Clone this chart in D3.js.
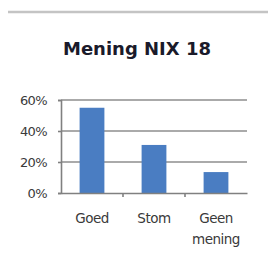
<!DOCTYPE html>
<html>
<head>
<meta charset="utf-8">
<script src="https://cdn.jsdelivr.net/npm/d3@7"></script>
<style>
  body { margin: 0; background: #fff; }
  svg { display: block; }
</style>
</head>
<body>
<svg id="chart" width="268" height="262"></svg>
<script>
const categories = ['Goed', 'Stom', 'Geen mening'];
const values = [55, 31, 13.5];
const yTicks = [0, 20, 40, 60];

const svg = d3.select('#chart');
const plotLeft = 61, plotRight = 247, plotTop = 100, plotBottom = 193;

// top separator line
svg.append('line')
    .attr('x1', 8).attr('x2', 268)
    .attr('y1', 12).attr('y2', 12)
    .attr('stroke', '#c4c4c4').attr('stroke-width', 2.5);

svg.append('text')
    .attr('x', 137).attr('y', 55)
    .attr('text-anchor', 'middle')
    .attr('font-family', 'DejaVu Sans')
    .attr('font-weight', 'bold')
    .attr('font-size', 18)
    .attr('fill', '#1a1a2a')
    .text('Mening NIX 18');

const x = d3.scaleBand().domain(categories).range([plotLeft, plotRight]).paddingInner(0.6).paddingOuter(0.3);
const y = d3.scaleLinear().domain([0, 60]).range([plotBottom, plotTop]);

// gridlines
svg.append('g').selectAll('line')
    .data(yTicks.filter(d => d > 0))
    .enter().append('line')
    .attr('x1', plotLeft).attr('x2', plotRight)
    .attr('y1', d => y(d)).attr('y2', d => y(d))
    .attr('stroke', '#8e8e8e').attr('stroke-width', 1.6);

// bars
svg.append('g').selectAll('rect')
    .data(values)
    .enter().append('rect')
    .attr('x', (d, i) => x(categories[i]))
    .attr('width', x.bandwidth())
    .attr('y', d => y(d))
    .attr('height', d => y(0) - y(d))
    .attr('fill', '#4a7dc2');

// y axis
const yAxis = svg.append('g')
    .attr('transform', `translate(${plotLeft},0)`)
    .call(d3.axisLeft(y).tickValues(yTicks).tickFormat(d => d + '%').tickSize(3).tickPadding(11));
yAxis.select('.domain').attr('stroke', '#808080').attr('stroke-width', 1.6);
yAxis.selectAll('.tick line').attr('stroke', '#808080').attr('stroke-width', 1.6);
yAxis.selectAll('text')
    .attr('font-family', 'DejaVu Sans')
    .attr('font-size', 13)
    .attr('letter-spacing', -0.6)
    .attr('fill', '#3a3a3a');

// x axis
const xAxis = svg.append('g')
    .attr('transform', `translate(0,${plotBottom})`)
    .call(d3.axisBottom(x).tickSize(0).tickFormat(''));
xAxis.select('.domain').attr('stroke', '#808080').attr('stroke-width', 1.6);
// tick marks between categories
const step = x.step();
xAxis.append('g').selectAll('line')
    .data(categories.slice(1))
    .enter().append('line')
    .attr('x1', d => x(d) - step * x.paddingInner() / 2)
    .attr('x2', d => x(d) - step * x.paddingInner() / 2)
    .attr('y1', 0).attr('y2', 4)
    .attr('stroke', '#808080').attr('stroke-width', 1.6);

// category labels (wrapped)
const labels = svg.append('g').selectAll('text')
    .data(categories)
    .enter().append('text')
    .attr('text-anchor', 'middle')
    .attr('font-family', 'DejaVu Sans')
    .attr('font-size', 13.5)
    .attr('letter-spacing', -0.5)
    .attr('fill', '#3a3a3a')
    .attr('x', d => x(d) + x.bandwidth() / 2)
    .attr('y', 223);
labels.each(function(d) {
    const words = d.split(' ');
    const t = d3.select(this);
    words.forEach((w, i) => {
        t.append('tspan')
            .attr('x', x(d) + x.bandwidth() / 2)
            .attr('dy', i === 0 ? 0 : 21)
            .text(w);
    });
});
</script>
</body>
</html>
